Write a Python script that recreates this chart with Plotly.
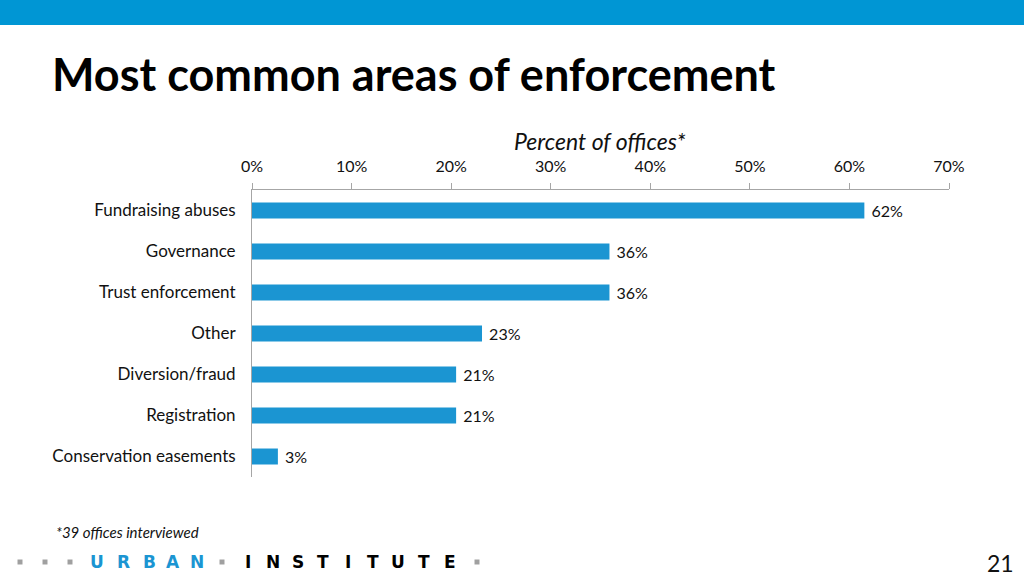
import plotly.graph_objects as go

categories = ["Fundraising abuses", "Governance", "Trust enforcement", "Other",
              "Diversion/fraud", "Registration", "Conservation easements"]
values = [61.5, 35.9, 35.9, 23.1, 20.5, 20.5, 2.6]
value_labels = ["62%", "36%", "36%", "23%", "21%", "21%", "3%"]
x_ticks = [0, 10, 20, 30, 40, 50, 60, 70]
x_tick_labels = ["0%", "10%", "20%", "30%", "40%", "50%", "60%", "70%"]

W, H = 1024, 576
L, R, T, B = 252, 949, 190, 477
PW, PH = R - L, B - T

def px(x):
    return (x - L) / PW

def py(y):
    return (B - y) / PH

BLUE = "#1b95d2"
FONT = "Lato, 'Open Sans', sans-serif"

fig = go.Figure(go.Bar(
    x=values, y=categories, orientation="h",
    marker=dict(color=BLUE, line=dict(width=0)),
    width=0.39,
    text=[" " + t for t in value_labels], textposition="outside",
    constraintext="none",
    textfont=dict(family=FONT, size=16, color="#111111"),
    cliponaxis=False, hoverinfo="skip",
))

shapes = [
    dict(type="rect", xref="paper", yref="paper", x0=px(0), x1=px(W), y0=py(25), y1=py(0),
         fillcolor="#0096d4", line=dict(width=0), layer="below"),
]
# logo squares
for sx in [20, 45, 70, 222, 477]:
    shapes.append(dict(type="rect", xref="paper", yref="paper",
                       x0=px(sx - 2.5), x1=px(sx + 2.5), y0=py(564.5), y1=py(559.5),
                       fillcolor="#a0a0a0", line=dict(width=0)))

annotations = [
    dict(text="<b>Most common areas of enforcement</b>", xref="paper", yref="paper",
         x=px(50), y=py(74), xanchor="left", yanchor="middle", showarrow=False,
         font=dict(family=FONT, size=45, color="#000000")),
    dict(text="<i>Percent of offices*</i>", xref="paper", yref="paper",
         x=px(600), y=py(141), xanchor="center", yanchor="middle", showarrow=False,
         font=dict(family=FONT, size=23, color="#111111")),
    dict(text="<i>*39 offices interviewed</i>", xref="paper", yref="paper",
         x=px(54), y=py(532), xanchor="left", yanchor="middle", showarrow=False,
         font=dict(family=FONT, size=15, color="#111111")),
    dict(text="21", xref="paper", yref="paper",
         x=px(1000), y=py(563), xanchor="center", yanchor="middle", showarrow=False,
         font=dict(family=FONT, size=23, color="#111111")),
]
logo = [("U", 97, BLUE), ("R", 123, BLUE), ("B", 149, BLUE), ("A", 173, BLUE), ("N", 197, BLUE),
        ("I", 248, "#000"), ("N", 273, "#000"), ("S", 298, "#000"), ("T", 323, "#000"),
        ("I", 348, "#000"), ("T", 373, "#000"), ("U", 398, "#000"), ("T", 424, "#000"),
        ("E", 450, "#000")]
for ch, lx, col in logo:
    annotations.append(dict(text="<b>" + ch + "</b>", xref="paper", yref="paper",
                            x=px(lx), y=py(562), xanchor="center", yanchor="middle",
                            showarrow=False,
                            font=dict(family="'DejaVu Sans', sans-serif", size=17, color=col)))

fig.update_layout(
    width=W, height=H,
    margin=dict(l=L, r=W - R, t=T, b=H - B, pad=0),
    paper_bgcolor="white", plot_bgcolor="white",
    showlegend=False,
    font=dict(family=FONT, size=16, color="#111111"),
    xaxis=dict(side="top", range=[0, 70], tickvals=x_ticks, ticktext=x_tick_labels,
               ticks="outside", ticklen=6, tickcolor="#a6a6a6", tickwidth=1,
               ticklabelstandoff=5,
               showline=True, linecolor="#a6a6a6", linewidth=1,
               showgrid=False, zeroline=False, fixedrange=True,
               tickfont=dict(family=FONT, size=16, color="#111111")),
    yaxis=dict(autorange="reversed", showline=True, linecolor="#a6a6a6", linewidth=1,
               ticks="", showgrid=False, zeroline=False, ticklabelstandoff=12,
               tickfont=dict(family=FONT, size=17, color="#111111")),
    shapes=shapes, annotations=annotations,
)

fig.write_html("out.html", config={"displayModeBar": False},
               post_script="document.body.style.margin='0';document.body.style.padding='0';document.body.style.overflow='hidden';")
